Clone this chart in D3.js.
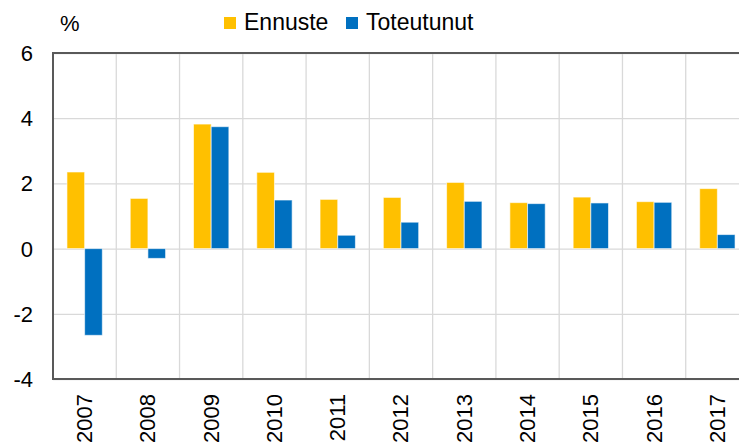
<!DOCTYPE html>
<html>
<head>
<meta charset="utf-8">
<script src="https://cdn.jsdelivr.net/npm/d3@7"></script>
<style>
  body { margin: 0; background: #fff; }
  text { font-family: "Liberation Sans", Arial, sans-serif; fill: #000; }
</style>
</head>
<body>
<script>
var width = 739, height = 446

// data
var years = ["2007", "2008", "2009", "2010", "2011", "2012", "2013", "2014", "2015", "2016", "2017"]
var ennuste = [2.35, 1.54, 3.82, 2.34, 1.51, 1.57, 2.03, 1.41, 1.58, 1.44, 1.84]
var toteutunut = [-2.66, -0.30, 3.74, 1.49, 0.41, 0.81, 1.45, 1.38, 1.40, 1.42, 0.43]
var seriesNames = ["Ennuste", "Toteutunut"]
var colors = ["#FFC000", "#0070C0"]
var yTicks = [-4, -2, 0, 2, 4, 6]

var margin = {left: 53, top: 53, right: -10, bottom: 67}

var svg = d3.select("body").append("svg")
    .attr("width", width)
    .attr("height", height)

var x = d3.scaleBand()
  .domain(years)
  .range([margin.left, width - margin.right])

var xInner = d3.scaleBand()
  .domain(seriesNames)
  .range([0, x.bandwidth()])
  .paddingInner(0)
  .paddingOuter(0.79)

var y = d3.scaleLinear()
  .domain([-4, 6])
  .range([height - margin.bottom, margin.top])

//gridlines
var grid = svg.append("g")
grid.selectAll(".hg")
  .data(yTicks)
  .enter().append("line")
  .attr("x1", margin.left).attr("x2", width)
  .attr("y1", function(d) { return y(d) + 0.5 })
  .attr("y2", function(d) { return y(d) + 0.5 })
  .style("stroke", "#d9d9d9").style("stroke-width", 1.3)

grid.selectAll(".vg")
  .data(years.slice(1))
  .enter().append("line")
  .attr("x1", function(d) { return x(d) })
  .attr("x2", function(d) { return x(d) })
  .attr("y1", margin.top).attr("y2", height - margin.bottom)
  .style("stroke", "#d9d9d9").style("stroke-width", 1.3)

//bars
var rows = years.map(function(yr, i) {
  return {year: yr, values: [ennuste[i], toteutunut[i]]}
})

var group = svg.append("g")
  .selectAll("g")
  .data(rows)
  .enter().append("g")
  .attr("transform", function(d) { return "translate(" + x(d.year) + ",0)" })

group.selectAll("rect")
  .data(function(d) {
    return d.values.map(function(v, j) { return {name: seriesNames[j], value: v, c: colors[j]} })
  })
  .enter().append("rect")
  .attr("x", function(d) { return xInner(d.name) })
  .attr("width", xInner.bandwidth())
  .attr("y", function(d) { return y(Math.max(0, d.value)) })
  .attr("height", function(d) { return Math.abs(y(d.value) - y(0)) })
  .attr("fill", function(d) { return d.c })
  .style("stroke", "rgba(255,255,255,0.6)")
  .style("stroke-width", 1)

//axes frame lines
svg.append("line")
  .attr("x1", margin.left).attr("x2", margin.left)
  .attr("y1", margin.top - 1).attr("y2", height - margin.bottom + 1)
  .style("stroke", "#595959").style("stroke-width", 2)
svg.append("line")
  .attr("x1", margin.left).attr("x2", width)
  .attr("y1", margin.top).attr("y2", margin.top)
  .style("stroke", "#595959").style("stroke-width", 2)
svg.append("line")
  .attr("x1", margin.left).attr("x2", width)
  .attr("y1", height - margin.bottom).attr("y2", height - margin.bottom)
  .style("stroke", "#595959").style("stroke-width", 2)

//y labels
svg.append("g").selectAll("text")
  .data(yTicks)
  .enter().append("text")
  .attr("x", 33)
  .attr("y", function(d) { return y(d) })
  .attr("dy", "0.36em")
  .attr("text-anchor", "end")
  .style("font-size", "22px")
  .text(function(d) { return d })

svg.append("text")
  .attr("x", 60).attr("y", 31)
  .style("font-size", "22px")
  .text("%")

//x labels
svg.append("g").selectAll("text")
  .data(years)
  .enter().append("text")
  .attr("transform", function(d) {
    return "translate(" + (x(d) + x.bandwidth() / 2 - 0.5) + ",394) rotate(-90)"
  })
  .attr("dy", "0.36em")
  .attr("text-anchor", "end")
  .style("font-size", "22px")
  .text(function(d) { return d })

//legend
var legend = svg.append("g")
var legendX = [224, 346]
legend.selectAll("rect")
  .data(seriesNames)
  .enter().append("rect")
  .attr("x", function(d, i) { return legendX[i] })
  .attr("y", 17)
  .attr("width", 12).attr("height", 12)
  .attr("fill", function(d, i) { return colors[i] })
legend.selectAll("text")
  .data(seriesNames)
  .enter().append("text")
  .attr("x", function(d, i) { return legendX[i] + 20 })
  .attr("y", 29.5)
  .style("font-size", "23px")
  .text(function(d) { return d })
</script>
</body>
</html>
